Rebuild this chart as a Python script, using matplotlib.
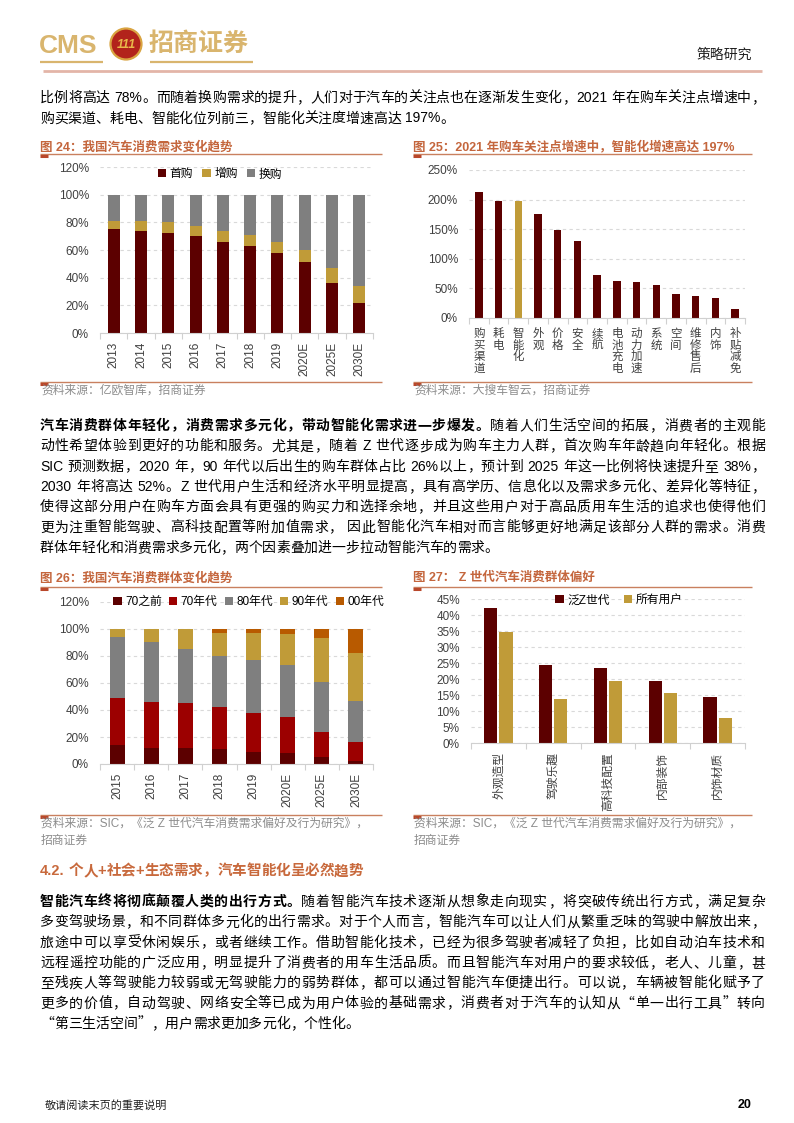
import matplotlib
matplotlib.use("Agg")
import matplotlib.pyplot as plt
import matplotlib.transforms as mtransforms
from matplotlib.patches import Patch, Circle
from matplotlib.lines import Line2D
import numpy as np

W, H = 794, 1123
CN = ['Noto Sans CJK SC']
LAT = ['Liberation Sans']
MIX = ['Liberation Sans', 'Noto Sans CJK SC']
plt.rcParams['font.family'] = MIX

# ---------------- data ----------------
years24 = ['2013', '2014', '2015', '2016', '2017', '2018', '2019', '2020E', '2025E', '2030E']
first_buy = [75, 74, 72, 70, 66, 63, 58, 51, 36, 22]
add_buy = [6, 7, 8, 7, 8, 8, 8, 9, 11, 12]
replace_buy = [19, 19, 20, 23, 26, 29, 34, 40, 53, 66]

focus_items = ['购买渠道', '耗电', '智能化', '外观', '价格', '安全', '续航', '电池充电',
               '动力加速', '系统', '空间', '维修售后', '内饰', '补贴减免']
focus_growth = [212, 198, 197, 176, 149, 130, 72, 63, 60, 56, 41, 38, 34, 16]

years26 = ['2015', '2016', '2017', '2018', '2019', '2020E', '2025E', '2030E']
gen_pre70 = [14, 12, 12, 11, 9, 8, 5, 2]
gen_70s = [35, 34, 33, 31, 29, 27, 19, 14]
gen_80s = [45, 44, 40, 38, 39, 38, 37, 31]
gen_90s = [6, 10, 15, 17, 20, 23, 32, 35]
gen_00s = [0, 0, 0, 3, 3, 4, 7, 18]
gen_names = ['70之前', '70年代', '80年代', '90年代', '00年代']

pref_items = ['外观造型', '驾驶乐趣', '高科技配置', '内部装饰', '内饰材质']
pref_genz = [42.3, 24.3, 23.3, 19.4, 14.4]
pref_all = [34.7, 13.8, 19.4, 15.5, 7.9]

MAROON = '#5c0000'
RED = '#9c0000'
GOLD = '#c09b38'
GREY = '#7f7f7f'
ORANGE = '#b85a00'
TITLE_C = '#c4663d'
LINE_C = '#c9805f'
SRC_C = '#8c8c8c'

# ---------------- page ----------------
fig = plt.figure(figsize=(W / 100, H / 100), dpi=100)
renderer = fig.canvas.get_renderer()


def fx(x):
    return x / W


def fy(y):
    return 1 - y / H


def hline(x0, x1, y, color, lw):
    fig.add_artist(Line2D([fx(x0), fx(x1)], [fy(y), fy(y)], transform=fig.transFigure,
                          color=color, linewidth=lw, solid_capstyle='butt'))


def ascii_width(s, size, weight):
    t = fig.text(0, 0, s, fontsize=size, family=LAT, fontweight=weight)
    w = t.get_window_extent(renderer).width
    t.remove()
    return w


def split_tokens(segs):
    toks = []
    for s, b in segs:
        run = ''
        for ch in s:
            if ch == ' ':
                if run:
                    toks.append((run, b, 'a'))
                    run = ''
                toks.append((' ', b, 's'))
            elif ord(ch) < 128:
                run += ch
            else:
                if run:
                    toks.append((run, b, 'a'))
                    run = ''
                toks.append((ch, b, 'c'))
        if run:
            toks.append((run, b, 'a'))
    return toks


def text_line(y, segs, x0=40, x1=765, size=10, justify=True, color='black'):
    em = size * 100 / 72
    toks = split_tokens(segs)
    widths = []
    for s, b, k in toks:
        if k == 'c':
            widths.append(em)
        elif k == 's':
            widths.append(em * 0.28)
        else:
            widths.append(ascii_width(s, size, 'bold' if b else 'normal'))
    gap = 0
    if justify and len(toks) > 1:
        gap = (x1 - x0 - sum(widths)) / (len(toks) - 1)
    x = x0
    base = y + 0.36 * em
    for (s, b, k), w in zip(toks, widths):
        if k != 's':
            fam = CN if k == 'c' else LAT
            fig.text(fx(x), fy(base), s, fontsize=size, family=fam,
                     fontweight='bold' if b else 'normal', color=color,
                     ha='left', va='baseline')
        x += w + gap


def paragraph(y0, step, lines):
    for i, segs in enumerate(lines):
        text_line(y0 + i * step, segs, justify=(i < len(lines) - 1))


# header
fig.text(fx(39), fy(46), 'CMS', fontsize=19, family=LAT, fontweight='bold', color='#d9b56e',
         ha='left', va='center')
fig.add_artist(Circle((1.26, (H - 44) / 100), 0.155, transform=fig.dpi_scale_trans,
                      facecolor='#b2231b', edgecolor='#d9a441', linewidth=1.6))
fig.text(fx(126), fy(45), '111', fontsize=9, family=LAT, fontweight='bold', style='italic',
         color='#e8b84a', ha='center', va='center')
fig.text(fx(149), fy(44), '招商证券', fontsize=18, family=CN, fontweight='bold', color='#d9b56e',
         ha='left', va='center')
hline(40, 103, 62, '#d9b56e', 1.6)
hline(150, 253, 62, '#d9b56e', 1.6)
fig.text(fx(752), fy(55), '策略研究', fontsize=10, family=CN, color='#202020', ha='right', va='center')
hline(43, 762, 71, '#e3b5a8', 2.0)

para1 = [
    [("比例将高达 78%。而随着换购需求的提升，人们对于汽车的关注点也在逐渐发生变化，2021 年在购车关注点增速中，", False)],
    [("购买渠道、耗电、智能化位列前三，智能化关注度增速高达 197%。", False)],
]
paragraph(97, 20.5, para1)

para2 = [
    [("汽车消费群体年轻化，消费需求多元化，带动智能化需求进一步爆发。", True), ("随着人们生活空间的拓展，消费者的主观能", False)],
    [("动性希望体验到更好的功能和服务。尤其是，随着 Z 世代逐步成为购车主力人群，首次购车年龄趋向年轻化。根据", False)],
    [("SIC 预测数据，2020 年，90 年代以后出生的购车群体占比 26%以上，预计到 2025 年这一比例将快速提升至 38%，", False)],
    [("2030 年将高达 52%。Z 世代用户生活和经济水平明显提高，具有高学历、信息化以及需求多元化、差异化等特征，", False)],
    [("使得这部分用户在购车方面会具有更强的购买力和选择余地，并且这些用户对于高品质用车生活的追求也使得他们", False)],
    [("更为注重智能驾驶、高科技配置等附加值需求， 因此智能化汽车相对而言能够更好地满足该部分人群的需求。消费", False)],
    [("群体年轻化和消费需求多元化，两个因素叠加进一步拉动智能汽车的需求。", False)],
]
paragraph(425, 20.3, para2)

text_line(870, [("4.2. 个人+社会+生态需求，汽车智能化呈必然趋势", True)], size=10.5,
          justify=False, color='#c8693c')

para3 = [
    [("智能汽车终将彻底颠覆人类的出行方式。", True), ("随着智能汽车技术逐渐从想象走向现实，将突破传统出行方式，满足复杂", False)],
    [("多变驾驶场景，和不同群体多元化的出行需求。对于个人而言，智能汽车可以让人们从繁重乏味的驾驶中解放出来，", False)],
    [("旅途中可以享受休闲娱乐，或者继续工作。借助智能化技术，已经为很多驾驶者减轻了负担，比如自动泊车技术和", False)],
    [("远程遥控功能的广泛应用，明显提升了消费者的用车生活品质。而且智能汽车对用户的要求较低，老人、儿童，甚", False)],
    [("至残疾人等驾驶能力较弱或无驾驶能力的弱势群体，都可以通过智能汽车便捷出行。可以说，车辆被智能化赋予了", False)],
    [("更多的价值，自动驾驶、网络安全等已成为用户体验的基础需求，消费者对于汽车的认知从“单一出行工具”转向", False)],
    [("“第三生活空间”，用户需求更加多元化，个性化。", False)],
]
paragraph(901, 20.3, para3)

# footer
fig.text(fx(45), fy(1105), '敬请阅读末页的重要说明', fontsize=8, family=CN, color='#202020',
         ha='left', va='center')
fig.text(fx(752), fy(1105), '20', fontsize=9, family=LAT, fontweight='bold', color='black',
         ha='right', va='center')


# ---------------- chart frames ----------------
def frame(x0, x1, ytitle, yline, ysrc_line, title, src_lines):
    fig.text(fx(x0), fy(ytitle), title, fontsize=9, family=MIX, fontweight='bold',
             color=TITLE_C, ha='left', va='center')
    hline(x0, x1, yline, LINE_C, 1.0)
    hline(x0, x0 + 8, yline + 1.5, '#b9472a', 2.2)
    hline(x0, x1, ysrc_line, LINE_C, 1.0)
    hline(x0, x0 + 8, ysrc_line + 1.5, '#b9472a', 2.2)
    for i, s in enumerate(src_lines):
        fig.text(fx(x0 + 1), fy(ysrc_line + 9 + i * 17), s, fontsize=8.5, family=MIX,
                 color=SRC_C, ha='left', va='center')


frame(40, 382, 147, 154, 382, '图 24：我国汽车消费需求变化趋势', ['资料来源：亿欧智库，招商证券'])
frame(413, 752, 147, 154, 382, '图 25：2021 年购车关注点增速中，智能化增速高达 197%',
      ['资料来源：大搜车智云，招商证券'])
frame(40, 382, 578, 587, 815, '图 26：我国汽车消费群体变化趋势',
      ['资料来源：SIC，《泛 Z 世代汽车消费需求偏好及行为研究》，', '招商证券'])
frame(413, 752, 578, 587, 815, '图 27： Z 世代汽车消费群体偏好',
      ['资料来源：SIC，《泛 Z 世代汽车消费需求偏好及行为研究》，', '招商证券'])


def chart_axes(l, r, t, b, n, ymax, ystep):
    ax = fig.add_axes([fx(l), fy(b), (r - l) / W, (b - t) / H])
    for s in ['top', 'right', 'left']:
        ax.spines[s].set_visible(False)
    ax.spines['bottom'].set_color('#d0d0d0')
    ax.spines['bottom'].set_linewidth(0.8)
    ax.set_ylim(0, ymax)
    ticks = np.arange(0, ymax + 0.01, ystep)
    ax.set_yticks(ticks)
    ax.set_yticklabels([f'{int(v)}%' for v in ticks], family=LAT)
    ax.yaxis.grid(True, color='#d9d9d9', linestyle=(0, (3, 3)), linewidth=0.8)
    ax.set_axisbelow(True)
    ax.set_xlim(-0.5, n - 0.5)
    ax.set_xticks(np.arange(n + 1) - 0.5, minor=True)
    ax.tick_params(axis='y', length=0, pad=8, labelsize=8.5, labelcolor='#404040')
    ax.tick_params(axis='x', which='major', length=0, pad=6.5, labelsize=8.5, labelcolor='#404040')
    ax.tick_params(axis='x', which='minor', length=4, color='#d0d0d0', width=0.8)
    return ax


def square_legend(ax, names, colors, anchor, ncol, spacing):
    handles = [Patch(facecolor=c, edgecolor='none') for c in colors]
    ax.legend(handles, names, loc='center', bbox_to_anchor=anchor, ncol=ncol, frameon=False,
              handlelength=0.7, handleheight=0.7, handletextpad=0.3,
              columnspacing=spacing, borderaxespad=0, prop={'family': MIX, 'size': 8.5})


# chart 24
ax = chart_axes(100, 373, 167, 333, len(years24), 120, 20)
x = np.arange(len(years24))
b1 = np.array(first_buy)
b2 = np.array(add_buy)
ax.bar(x, first_buy, 0.44, color=MAROON)
ax.bar(x, add_buy, 0.44, bottom=b1, color=GOLD)
ax.bar(x, replace_buy, 0.44, bottom=b1 + b2, color=GREY)
ax.set_xticks(x)
ax.set_xticklabels(years24, rotation=90, va='top', ha='center', family=LAT)
square_legend(ax, ['首购', '增购', '换购'], [MAROON, GOLD, GREY], (0.44, 0.955), 3, 0.8)

# chart 25 -- labels stacked upright, one character per row
ax = chart_axes(469, 745, 170, 318, len(focus_items), 250, 50)
x = np.arange(len(focus_items))
colors25 = [GOLD if name == '智能化' else MAROON for name in focus_items]
ax.bar(x, focus_growth, 0.37, color=colors25)
ax.set_xticks(x)
ax.set_xticklabels([])
blend = mtransforms.blended_transform_factory(ax.transData, fig.transFigure)
for i, name in enumerate(focus_items):
    for j, ch in enumerate(name):
        ax.text(i, fy(327 + j * 11.6), ch, transform=blend, ha='center', va='top',
                fontsize=8.3, family=CN, color='#404040', clip_on=False)

# chart 26
ax = chart_axes(100, 373, 602, 764, len(years26), 120, 20)
x = np.arange(len(years26))
series26 = [gen_pre70, gen_70s, gen_80s, gen_90s, gen_00s]
colors26 = [MAROON, RED, GREY, GOLD, ORANGE]
bottom = np.zeros(len(years26))
for vals, c in zip(series26, colors26):
    ax.bar(x, vals, 0.44, bottom=bottom, color=c)
    bottom += np.array(vals)
ax.set_xticks(x)
ax.set_xticklabels(years26, rotation=90, va='top', ha='center', family=LAT)
square_legend(ax, gen_names, colors26, (0.545, 1.0), 5, 0.6)

# chart 27
ax = chart_axes(471, 745, 599, 743, len(pref_items), 45, 5)
x = np.arange(len(pref_items))
ax.bar(x - 0.14, pref_genz, 0.24, color=MAROON)
ax.bar(x + 0.14, pref_all, 0.24, color=GOLD)
ax.set_xticks(x)
ax.set_xticklabels(pref_items, rotation=90, va='top', ha='center', family=CN)
square_legend(ax, ['泛Z世代', '所有用户'], [MAROON, GOLD], (0.54, 0.99), 2, 1.2)

fig.savefig('out.png', dpi=100)
